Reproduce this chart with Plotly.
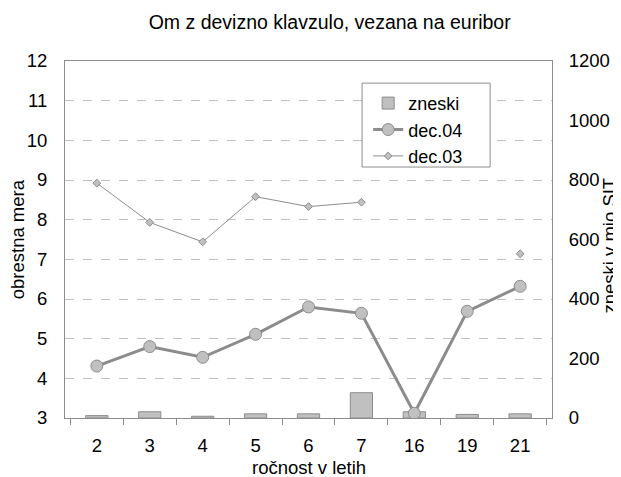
import plotly.graph_objects as go

categories = ["2", "3", "4", "5", "6", "7", "16", "19", "21"]
zneski = [8, 21, 6, 14, 14, 85, 21, 12, 14]
dec04 = [4.31, 4.80, 4.53, 5.11, 5.80, 5.64, 3.12, 5.69, 6.32]
dec03 = [8.92, 7.93, 7.44, 8.58, 8.33, 8.44, None, None, 7.14]

FONT = "Liberation Sans, Arial, sans-serif"
GRAY = "#8c8c8c"
FILL = "#c0c0c0"
FS = 18.5

fig = go.Figure()
fig.add_trace(go.Bar(
    x=categories, y=zneski, name="zneski", yaxis="y",
    marker=dict(color=FILL, line=dict(color=GRAY, width=1)),
    legendgroup="a",
))
fig.add_trace(go.Scatter(
    x=categories, y=dec04, name="dec.04", yaxis="y2", mode="lines+markers",
    line=dict(color=GRAY, width=3),
    marker=dict(symbol="circle", size=12, color=FILL, line=dict(color=GRAY, width=1)),
    legendgroup="b",
))
fig.add_trace(go.Scatter(
    x=categories, y=dec03, name="dec.03", yaxis="y2", mode="lines+markers",
    line=dict(color=GRAY, width=1), connectgaps=False,
    marker=dict(symbol="diamond", size=6, color=FILL, line=dict(color=GRAY, width=1)),
    legendgroup="c",
))

fig.update_layout(
    width=621, height=477,
    margin=dict(l=57, r=77, t=53, b=67, autoexpand=False),
    paper_bgcolor="white", plot_bgcolor="white",
    font=dict(family=FONT, size=FS, color="black"),
    title=dict(text="Om z devizno klavzulo, vezana na euribor", x=0.518, xanchor="center",
               y=0.971, yanchor="middle", font=dict(size=19.5)),
    bargap=0.58,
    showlegend=True,
    legend=dict(x=0.6225, y=0.933, xanchor="left", yanchor="top",
                bgcolor="rgba(0,0,0,0)", borderwidth=0,
                tracegroupgap=0, traceorder="grouped",
                font=dict(size=18)),
    shapes=[
        dict(type="rect", xref="paper", yref="paper", x0=0.610, x1=0.873,
             y0=0.703, y1=0.938, fillcolor="white",
             line=dict(color=GRAY, width=1), layer="above"),
    ],
    xaxis=dict(
        type="category", showline=True, linecolor=GRAY, linewidth=1, mirror=True,
        ticks="outside", tickson="boundaries", ticklen=6, tickcolor=GRAY,
        showgrid=False, automargin=False, ticklabelstandoff=11,
        tickfont=dict(size=FS),
    ),
    yaxis=dict(
        side="right", range=[0, 1200], dtick=200, showgrid=False, zeroline=False,
        showline=True, linecolor=GRAY, linewidth=1, automargin=False,
        ticklabelstandoff=12, tickfont=dict(size=FS),
    ),
    yaxis2=dict(
        overlaying="y", side="left", range=[3, 12], dtick=1, zeroline=False,
        showgrid=True, gridcolor="#c0c0c0", griddash="dash", gridwidth=1,
        showline=True, linecolor=GRAY, linewidth=1, automargin=False,
        ticklabelstandoff=13, tickfont=dict(size=FS),
    ),
    annotations=[
        dict(text="ročnost v letih", xref="paper", yref="paper", x=0.5, y=-0.138,
             xanchor="center", yanchor="middle", showarrow=False, font=dict(size=FS)),
        dict(text="obrestna mera", xref="paper", yref="paper", x=-0.097, y=0.5,
             xanchor="center", yanchor="middle", textangle=-90, showarrow=False,
             font=dict(size=FS)),
        dict(text="zneski v mio SIT", xref="paper", yref="paper", x=1.119, y=0.483,
             xanchor="center", yanchor="middle", textangle=-90, showarrow=False,
             font=dict(size=FS)),
    ],
)

fig.write_html("out.html")
